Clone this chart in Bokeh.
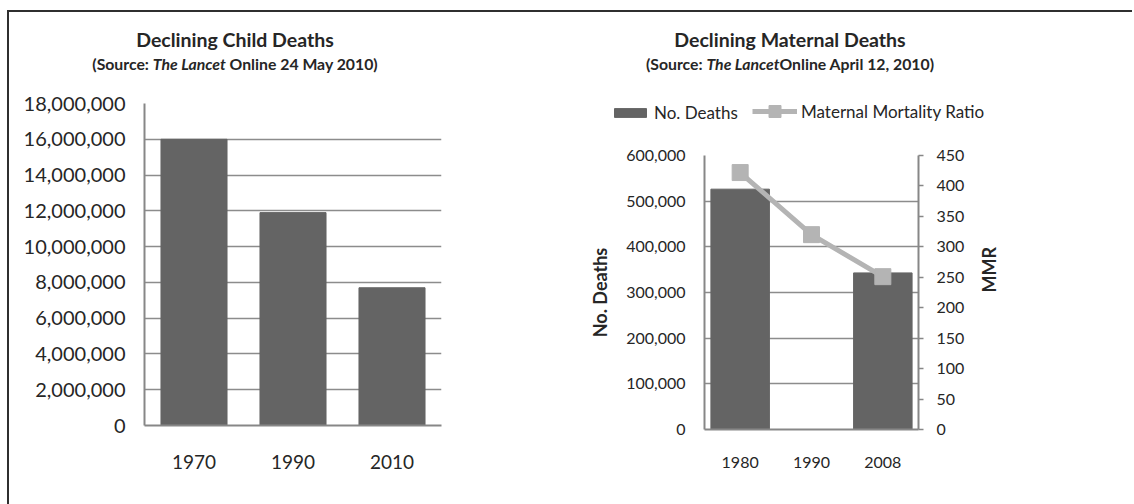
import math

from bokeh.plotting import figure
from bokeh.layouts import row, column
from bokeh.models import (Range1d, LinearAxis, NumeralTickFormatter, FixedTicker,
                          Legend, LegendItem, Div)
from bokeh.embed import file_html
from bokeh.resources import INLINE

# ---- data ---------------------------------------------------------------
child_years = ["1970", "1990", "2010"]
child_deaths = [16_000_000, 11_900_000, 7_700_000]
child_ticks = [0, 2_000_000, 4_000_000, 6_000_000, 8_000_000,
               10_000_000, 12_000_000, 14_000_000, 16_000_000, 18_000_000]

maternal_years = ["1980", "1990", "2008"]
maternal_deaths = [526_300, None, 342_900]          # no count given for 1990
maternal_ratio = [422, 320, 251]                    # deaths per 100,000 live births
deaths_ticks = [0, 100_000, 200_000, 300_000, 400_000, 500_000, 600_000]
ratio_ticks = [0, 50, 100, 150, 200, 250, 300, 350, 400, 450]

# ---- style --------------------------------------------------------------
FONT = "Lato"
TEXT = "#262626"
BAR = "#646464"
LINE = "#b4b4b4"
AXIS = "#878787"
GRID = "#8c8c8c"

HEAD_H = 70   # height of the title block above each chart
H = 422       # full height below the title block
LEG_H = 50    # strip holding the legend of the right chart


def style_axis(ax, size):
    ax.major_label_text_font = FONT
    ax.major_label_text_font_size = f"{size}px"
    ax.major_label_text_color = TEXT
    ax.axis_line_color = AXIS
    ax.axis_line_width = 2
    ax.major_tick_line_color = None
    ax.minor_tick_line_color = None
    ax.axis_label_text_font = FONT
    ax.axis_label_text_font_style = "bold"
    ax.axis_label_text_color = TEXT


def base_fig(x_range, y_range, width, height, left, right, top, bottom):
    p = figure(x_range=x_range, y_range=y_range, width=width, height=height,
               output_backend="svg", toolbar_location=None,
               min_border_left=left, min_border_right=right,
               min_border_top=top, min_border_bottom=bottom)
    p.frame_align = False
    p.outline_line_color = None
    p.background_fill_color = "white"
    p.border_fill_color = "white"
    p.xgrid.grid_line_color = None
    p.ygrid.grid_line_color = GRID
    p.ygrid.grid_line_width = 1.5
    return p


def heading(title, source_pre, source_italic, source_post, width, center):
    html = (
        f'<div style="font-family:{FONT};font-weight:bold;color:{TEXT};'
        f'width:{2 * center}px;text-align:center;">'
        f'<div style="font-size:19.5px;line-height:20px;padding-top:18px;">{title}</div>'
        f'<div style="font-size:15.8px;line-height:18px;padding-top:5px;">'
        f'{source_pre}<i>{source_italic}</i>{source_post}</div></div>'
    )
    return Div(text=html, width=width, height=HEAD_H, margin=0)


def key_legend(item, location, glyph_width, glyph_height):
    return Legend(items=[item], orientation="horizontal", location=location,
                  padding=0, margin=0, label_standoff=4,
                  glyph_width=glyph_width, glyph_height=glyph_height,
                  label_height=glyph_height,
                  label_text_font=FONT, label_text_font_size="17px",
                  label_text_color=TEXT, background_fill_alpha=0,
                  border_line_color=None)


# ---- left: child deaths ---------------------------------------------------
W1 = 551
L_LEFT, L_W, L_TOP, L_H = 135, 297, 21, 322
p1 = base_fig(child_years, Range1d(0, 18_000_000), W1, H,
              L_LEFT, W1 - L_LEFT - L_W, L_TOP, H - L_TOP - L_H)
p1.vbar(x=child_years, top=child_deaths, width=0.667, color=BAR)
p1.yaxis.ticker = FixedTicker(ticks=child_ticks)
p1.yaxis.formatter = NumeralTickFormatter(format="0,0")
style_axis(p1.yaxis[0], 20)
style_axis(p1.xaxis[0], 19)
p1.yaxis.major_label_standoff = 13
p1.xaxis.major_label_standoff = 23

head1 = heading("Declining Child Deaths", "(Source: ", "The Lancet",
                " Online 24 May 2010)", W1, 226)

# ---- right: maternal deaths ----------------------------------------------
W2 = 572
H2 = H - LEG_H
R_LEFT, R_W, R_TOP, R_H = 144, 214, 23, 274
p2 = base_fig(maternal_years, Range1d(0, 600_000), W2, H2,
              R_LEFT, W2 - R_LEFT - R_W, R_TOP, H2 - R_TOP - R_H)
p2.extra_y_ranges = {"mmr": Range1d(0, 450)}

bar_x = [yr for yr, d in zip(maternal_years, maternal_deaths) if d is not None]
bar_top = [d for d in maternal_deaths if d is not None]
p2.vbar(x=bar_x, top=bar_top, width=0.82, color=BAR)
p2.line(maternal_years, maternal_ratio, y_range_name="mmr",
        line_color=LINE, line_width=5)
p2.scatter(maternal_years, maternal_ratio, y_range_name="mmr",
           marker="square", size=16, color=LINE)

p2.yaxis.ticker = FixedTicker(ticks=deaths_ticks)
p2.yaxis.formatter = NumeralTickFormatter(format="0,0")
p2.yaxis.axis_label = "No. Deaths"
style_axis(p2.yaxis[0], 16)
style_axis(p2.xaxis[0], 16)
p2.yaxis.major_label_standoff = 13
p2.yaxis.axis_label_standoff = 12
p2.yaxis.axis_label_text_font_size = "18px"
p2.xaxis.major_label_standoff = 21

mmr_axis = LinearAxis(y_range_name="mmr", ticker=FixedTicker(ticks=ratio_ticks),
                      axis_label="MMR")
style_axis(mmr_axis, 16)
mmr_axis.major_tick_line_color = AXIS
mmr_axis.major_tick_line_width = 1.5
mmr_axis.major_tick_out = 5
mmr_axis.major_tick_in = 0
mmr_axis.major_label_standoff = 13
mmr_axis.axis_label_standoff = 22
mmr_axis.axis_label_text_font_size = "18px"
mmr_axis.axis_label_orientation = math.pi / 2
p2.add_layout(mmr_axis, "right")

# legend strip above the right chart; its key glyphs carry no visible data
leg = figure(width=W2, height=LEG_H, x_range=Range1d(0, 1), y_range=Range1d(0, 1),
             x_axis_type=None, y_axis_type=None, output_backend="svg",
             toolbar_location=None, min_border=0)
leg.frame_align = False
leg.outline_line_color = None
leg.xgrid.grid_line_color = None
leg.ygrid.grid_line_color = None
nan = float("nan")
key_bar = leg.vbar(x=[nan], top=[nan], width=0.5, color=BAR)
key_line = leg.line(x=[nan], y=[nan], line_color=LINE, line_width=5)
key_mark = leg.scatter(x=[nan], y=[nan], marker="square", size=16, color=LINE)

# the bar key is a flat swatch, the line key needs room for its square marker
leg.add_layout(key_legend(LegendItem(label="No. Deaths", renderers=[key_bar]),
                          (50, 9), 40, 11), "center")
leg.add_layout(key_legend(LegendItem(label="Maternal Mortality Ratio",
                                     renderers=[key_line, key_mark]),
                          (192, 6), 45, 30), "center")

head2 = heading("Declining Maternal Deaths", "(Source: ", "The Lancet",
                "Online April 12, 2010)", W2, 230)

layout = row(column(head1, p1), column(head2, leg, p2), margin=(10, 0, 0, 7),
             styles={"border-top": "2px solid #2f2f2f", "border-left": "2px solid #2f2f2f"})

open("out.html", "w").write(file_html(layout, INLINE))
